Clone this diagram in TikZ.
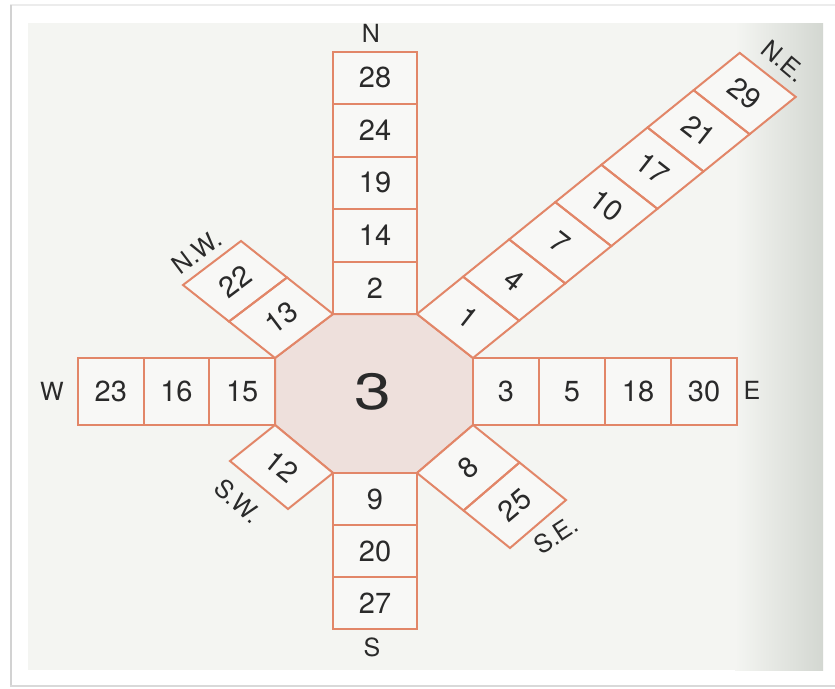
\documentclass[tikz,border=0pt]{standalone}
\usepackage{fontspec}
\setmainfont{TeX Gyre Heros}
\definecolor{armc}{HTML}{E28668}
\definecolor{octc}{HTML}{EEE0DC}
\definecolor{txt}{HTML}{2A2A2A}
\definecolor{scanbg}{HTML}{F4F5F2}
\definecolor{boxbg}{HTML}{F8F8F6}
\definecolor{shadec}{HTML}{D3D7D1}
\newcommand\drawarm[9]{%
  \foreach \lab [count=\kk] in {#9}{%
    \pgfmathsetmacro\jj{\kk-1}%
    \fill[boxbg] ({#1+\jj*(#5)},{#2+\jj*(#6)}) -- ({#3+\jj*(#5)},{#4+\jj*(#6)}) -- ({#3+\kk*(#5)},{#4+\kk*(#6)}) -- ({#1+\kk*(#5)},{#2+\kk*(#6)}) -- cycle;
  }
  \foreach \lab [count=\kk] in {#9}{%
    \pgfmathsetmacro\jj{\kk-1}%
    \draw[armline] ({#1+\jj*(#5)},{#2+\jj*(#6)}) -- ({#3+\jj*(#5)},{#4+\jj*(#6)}) -- ({#3+\kk*(#5)},{#4+\kk*(#6)}) -- ({#1+\kk*(#5)},{#2+\kk*(#6)}) -- cycle;
    \node[num, rotate=#7] (#8\kk) at ({(#1+#3)/2+(\jj+0.5)*(#5)},{(#2+#4)/2+(\jj+0.5)*(#6)}) {\lab};
  }}
\begin{document}
\begin{tikzpicture}[x=1pt,y=-1pt,
  armline/.style={draw=armc, line width=2pt, line join=miter},
  num/.style={font=\fontsize{29}{29}\selectfont, text=txt, inner sep=0pt},
  compass/.style={font=\fontsize{25}{25}\selectfont, text=txt, inner sep=0pt}]
\useasboundingbox (0,0) rectangle (835,688);
% frame
\fill[white] (0,0) rectangle (835,688);
\fill[gray!15] (10,4) rectangle (835,6);
\fill[gray!35] (9.5,5) rectangle (11.5,686);
\fill[gray!30] (9.5,684.5) rectangle (835,687);
\fill[scanbg] (28,23) rectangle (823,670);
\shade[left color=scanbg, right color=shadec] (735,23) rectangle (823,670);
% centre octagon
\draw[armline, fill=octc] (333,314) -- (417,314) -- (473,358) -- (473,425) -- (417,473) -- (333,473) -- (275,425) -- (275,358) -- cycle;
\node[font=\fontsize{51}{51}\selectfont, text=txt, inner sep=0pt] (centre) at (373,392) {\scalebox{1.3}[1]{3}};
% arms
\drawarm{333}{314}{417}{314}{0}{-52.5}{0}{n}{2,14,19,24,28}
\drawarm{417}{314}{473}{358}{46.1}{-37.3}{-38}{ne}{1,4,7,10,17,21,29}
\drawarm{473}{358}{473}{425}{66}{0}{0}{e}{3,5,18,30}
\drawarm{473}{425}{417}{473}{46.5}{37.5}{40}{se}{8,25}
\drawarm{417}{473}{333}{473}{0}{52}{0}{s}{9,20,27}
\drawarm{333}{473}{275}{425}{-45}{36}{-39}{sw}{12}
\drawarm{275}{425}{275}{358}{-65.7}{0}{0}{w}{15,16,23}
\drawarm{275}{358}{333}{314}{-46}{-36.5}{37}{nw}{13,22}
% compass labels
\node[compass] (lN) at (371,33) {N};
\node[compass] (lS) at (372,647) {S};
\node[compass] (lW) at (52,391) {W};
\node[compass] (lE) at (752,390) {E};
\node[compass, rotate=37] (lNW) at (197,252) {N.W.};
\node[compass, rotate=-42] (lSW) at (238,501) {S.W.};
\node[compass, rotate=33] (lSE) at (556,535) {S.E.};
\node[compass, rotate=-40] (lNE) at (784,61) {N.E.};
\end{tikzpicture}
\end{document}
